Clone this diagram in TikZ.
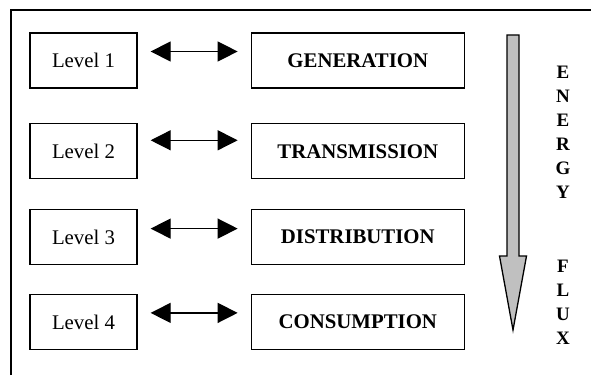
\documentclass[tikz,border=0pt]{standalone}
\usepackage{fontspec}
\setmainfont{Liberation Serif}
\usetikzlibrary{positioning, arrows.meta}
\definecolor{fluxgray}{RGB}{192,192,192}

\begin{document}
\begin{tikzpicture}[x=1pt, y=1pt, %
        lvl/.style={draw, line width=1.3pt, minimum width=107pt, minimum height=55pt,
          font=\fontsize{20.8}{25}\selectfont},
        sect/.style={lvl, minimum width=213pt, font=\fontsize{20.8}{25}\selectfont\bfseries},
        dbl/.style={line width=1.3pt, {Triangle[length=20pt, width=20pt]}-{Triangle[length=20pt, width=20pt]},
          shorten <=13pt, shorten >=13pt},
        vert/.style={align=center, font=\fontsize{19}{24}\selectfont\bfseries}
        ]
        \useasboundingbox (0,0) rectangle (591,375);
        \draw[line width=1.2pt] (11,0) -- (11,365) -- (591,365);

        \node[lvl] (lvl1) at (83.5,314.5) {Level 1};
        \node[lvl, below = 34.5pt of lvl1] (lvl2) {Level 2};
        \node[lvl, below = 29.5pt of lvl2] (lvl3) {Level 3};
        \node[lvl, below = 28.5pt of lvl3] (lvl4) {Level 4};

        \node[sect, right = 113pt of lvl1] (gen) {GENERATION};
        \node[sect, right = 113pt of lvl2] (trans) {TRANSMISSION};
        \node[sect, right = 113pt of lvl3] (dist) {DISTRIBUTION};
        \node[sect, right = 113pt of lvl4] (cons) {CONSUMPTION};

        \draw[dbl] ([yshift=9pt]lvl1.east) -- ([yshift=9pt]gen.west);
        \draw[dbl] ([yshift=11pt]lvl2.east) -- ([yshift=11pt]trans.west);
        \draw[dbl] ([yshift=8.5pt]lvl3.east) -- ([yshift=8.5pt]dist.west);
        \draw[dbl] ([yshift=9pt]lvl4.east) -- ([yshift=9pt]cons.west);

        % energy flux arrow
        \draw[line width=1.3pt, fill=fluxgray] (507,340) -- (519,340) -- (519,119) -- (526.5,119)
          -- (513,45) -- (499.5,119) -- (507,119) -- cycle;
        \node[vert] (energy) at (563,243) {E\\N\\E\\R\\G\\Y};
        \node[vert] (flux) at (563,72.5) {F\\L\\U\\X};
\end{tikzpicture}
\end{document}
